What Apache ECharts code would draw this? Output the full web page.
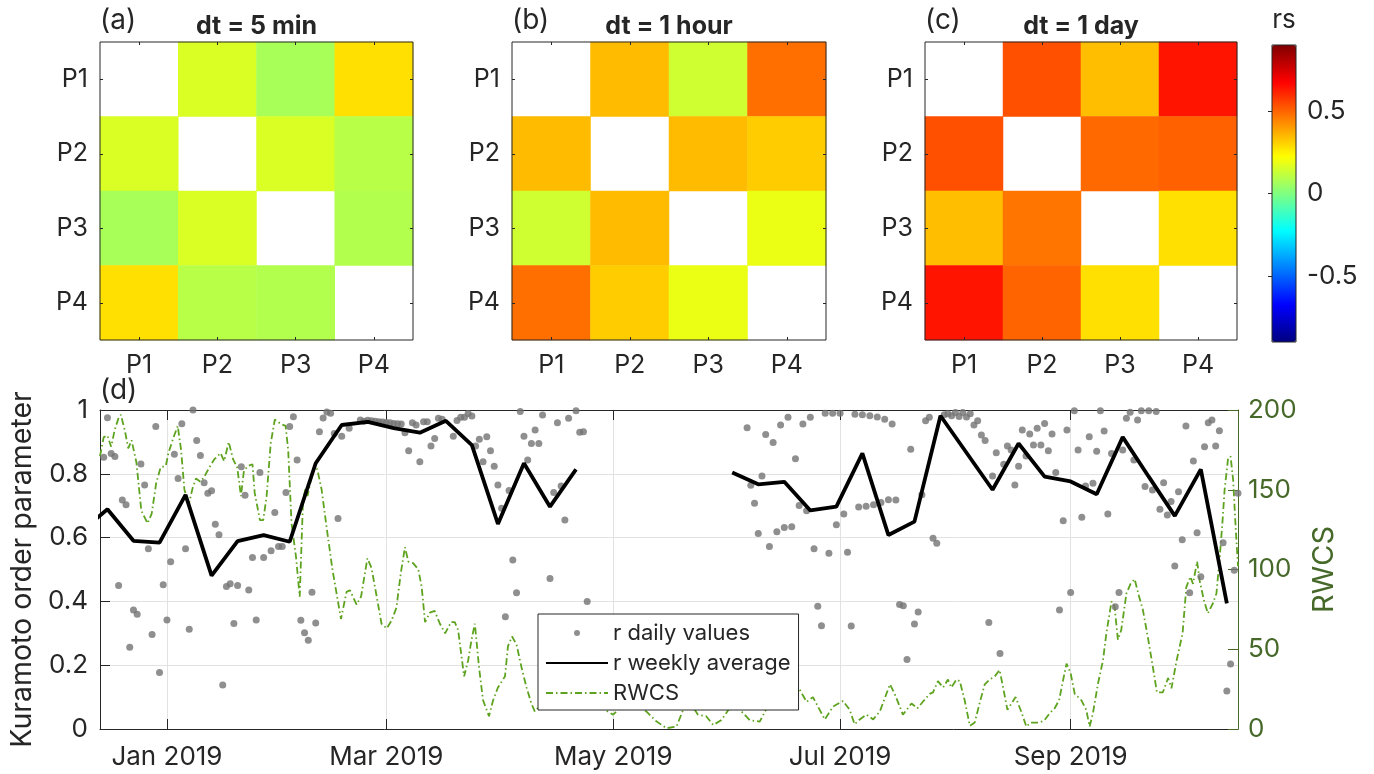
<!DOCTYPE html>
<html>
<head>
<meta charset="utf-8">
<script src="https://cdn.jsdelivr.net/npm/echarts@6/dist/echarts.min.js"></script>
<style>
  html, body { margin: 0; padding: 0; background: #fff; }
  #chart { width: 1374px; height: 774px; }
</style>
</head>
<body>
<div id="chart"></div>
<script>
// ---- data ----
const stations = ['P1', 'P2', 'P3', 'P4'];

// rs matrices: row = y category (P1 on top), column = x category, diagonal left blank
const rs5min = [
  [null, 0.16, 0.07, 0.28],
  [0.16, null, 0.16, 0.10],
  [0.07, 0.16, null, 0.09],
  [0.28, 0.10, 0.09, null],
];
const rs1hour = [
  [null, 0.345, 0.14, 0.48],
  [0.345, null, 0.345, 0.315],
  [0.14, 0.345, null, 0.19],
  [0.48, 0.315, 0.19, null],
];
const rs1day = [
  [null, 0.535, 0.34, 0.64],
  [0.535, null, 0.49, 0.505],
  [0.34, 0.47, null, 0.28],
  [0.64, 0.50, 0.28, null],
];
const panelTitles = ['dt = 5 min', 'dt = 1 hour', 'dt = 1 day'];
const panelLetters = ['(a)', '(b)', '(c)'];
const colorbarTicks = [-0.5, 0, 0.5];

const monthTicks = ['2019-01-01', '2019-03-01', '2019-05-01', '2019-07-01', '2019-09-01'];
const monthLabels = ['Jan 2019', 'Mar 2019', 'May 2019', 'Jul 2019', 'Sep 2019'];

// daily Kuramoto r: [day offset from 1 Jan 2019, r]
const dailyR = [
  [-17, 0.852], [-16, 0.976], [-15, 0.864], [-14, 0.854], [-13, 0.450], [-12, 0.718], [-11, 0.703],
  [-10, 0.256], [-9, 0.373], [-8, 0.360], [-7, 0.831], [-6, 0.765], [-5, 0.565], [-4, 0.296],
  [-3, 0.948], [-2, 0.177], [-1, 0.452], [0, 0.342], [1, 0.524], [2, 0.861], [3, 0.785],
  [4, 0.957], [5, 0.565], [6, 0.313], [7, 1.0], [8, 0.904], [9, 0.857], [10, 0.772],
  [11, 0.739], [12, 0.747], [13, 0.642], [14, 0.609], [15, 0.138], [16, 0.447], [17, 0.455],
  [18, 0.331], [19, 0.450], [20, 0.822], [21, 0.733], [22, 0.436], [23, 0.538], [24, 0.342],
  [25, 0.804], [26, 0.538], [28, 0.559], [29, 0.679], [30, 0.572], [31, 0.572], [32, 0.741],
  [33, 0.948], [34, 0.979], [35, 0.843], [36, 0.341], [37, 0.302], [38, 0.278], [39, 0.429],
  [40, 0.332], [41, 0.932], [42, 0.975], [43, 0.994], [44, 0.990], [45, 0.926], [46, 0.660],
  [47, 0.918], [49, 0.943], [52, 0.969], [53, 0.965], [54, 0.968], [55, 0.966], [56, 0.965],
  [57, 0.963], [58, 0.962], [59, 0.961], [60, 0.960], [61, 0.958], [62, 0.957], [63, 0.956],
  [64, 0.929], [65, 0.872], [66, 0.960], [67, 0.953], [68, 0.838], [69, 0.963], [70, 0.963],
  [71, 0.887], [72, 0.911], [73, 0.974], [74, 0.971], [77, 0.918], [78, 0.967], [79, 0.977],
  [80, 0.977], [81, 0.989], [82, 0.981], [83, 0.887], [84, 0.908], [85, 0.838], [86, 0.916],
  [87, 0.872], [88, 0.824], [89, 0.765], [90, 0.692], [91, 0.352], [92, 0.748], [93, 0.530],
  [94, 0.427], [95, 0.995], [96, 0.918], [97, 0.843], [98, 0.895], [99, 0.937], [100, 0.895],
  [101, 0.984], [103, 0.472], [104, 0.741], [105, 0.960], [106, 0.762], [107, 0.655],
  [108, 0.974], [110, 0.998], [111, 0.930], [112, 0.932], [113, 0.400],
  [156, 0.944], [157, 0.764], [158, 0.708], [159, 0.613], [160, 0.793], [161, 0.923],
  [162, 0.572], [163, 0.898], [164, 0.618], [165, 0.953], [166, 0.632], [167, 0.977],
  [168, 0.634], [169, 0.847], [170, 0.701], [171, 0.956], [172, 0.684], [173, 0.977],
  [174, 0.565], [175, 0.385], [176, 0.324], [177, 0.990], [178, 0.551], [179, 0.990],
  [180, 0.640], [181, 0.990], [182, 0.674], [183, 0.554], [184, 0.323], [185, 0.987],
  [186, 0.696], [187, 0.985], [188, 0.698], [189, 0.982], [190, 0.703], [191, 0.978],
  [192, 0.710], [193, 0.971], [194, 0.719], [195, 0.956], [196, 0.718], [197, 0.390],
  [198, 0.386], [199, 0.218], [200, 0.877], [201, 0.329], [202, 0.367], [203, 0.734],
  [204, 0.966], [205, 0.977], [206, 0.598], [207, 0.582], [209, 0.985], [210, 0.988],
  [211, 0.982], [212, 0.992], [213, 0.980], [214, 0.992], [215, 0.978], [216, 0.988],
  [217, 0.953], [218, 0.966], [219, 0.922], [220, 0.904], [221, 0.334], [222, 0.793],
  [223, 0.866], [224, 0.237], [225, 0.830], [226, 0.887], [227, 0.875], [228, 0.765],
  [229, 0.824], [230, 0.937], [231, 0.856], [232, 0.925], [233, 0.890], [234, 0.943],
  [235, 0.890], [236, 0.958], [237, 0.872], [238, 0.925], [239, 0.804], [240, 0.373],
  [241, 0.653], [242, 0.937], [243, 0.428], [244, 0.998], [245, 0.875], [246, 0.664],
  [247, 0.762], [248, 0.916], [249, 0.770], [250, 0.871], [251, 0.998], [252, 0.934],
  [253, 0.674], [254, 0.864], [255, 0.383], [256, 0.428], [257, 0.875], [258, 0.974],
  [259, 0.993], [260, 0.843], [261, 0.969], [262, 0.998], [263, 0.760], [264, 0.998],
  [265, 0.749], [266, 0.995], [267, 0.689], [268, 0.772], [269, 0.671], [270, 0.713],
  [271, 0.511], [272, 0.744], [273, 0.593], [274, 0.950], [275, 0.427], [276, 0.840],
  [277, 0.615], [278, 0.477], [279, 0.885], [280, 0.960], [281, 0.969], [282, 0.887],
  [283, 0.935], [284, 0.584], [285, 0.119], [286, 0.204], [287, 0.498], [288, 0.739],
];

// weekly average r (gap = no data)
const weeklyR = [
  [-23, 0.62], [-16, 0.689], [-9, 0.590], [-2, 0.584], [5, 0.734], [12, 0.481], [19, 0.589],
  [26, 0.608], [33, 0.587], [40, 0.833], [47, 0.953], [54, 0.963], [61, 0.943], [68, 0.929],
  [75, 0.966], [82, 0.890], [89, 0.643], [96, 0.833], [103, 0.697], [110, 0.814],
  [117, null], [124, null], [131, null], [138, null], [145, null],
  [152, 0.804], [159, 0.767], [166, 0.775], [173, 0.685], [180, 0.697], [187, 0.864],
  [194, 0.608], [201, 0.650], [208, 0.982], [215, 0.866], [222, 0.750], [229, 0.895],
  [236, 0.791], [243, 0.776], [250, 0.736], [257, 0.915], [264, 0.791], [271, 0.668],
  [278, 0.814], [285, 0.394],
];

// RWCS (right axis)
const rwcs = [
  [-18, 171], [-17, 183], [-16, 184], [-15, 177], [-14, 188], [-13, 195], [-12.4, 197],
  [-11.3, 187], [-10.4, 176], [-9.5, 181], [-8.2, 167], [-6.9, 137], [-5.2, 129], [-4.1, 135],
  [-2.9, 154], [-1.7, 164], [-0.3, 165], [0.4, 173], [1.8, 183], [2.9, 190], [3.8, 175],
  [4.7, 150], [5.9, 141], [6.9, 151], [7.8, 157], [9, 155], [10, 158], [11.4, 164],
  [12.7, 169], [14.4, 173], [15.4, 168], [16.6, 180], [17.8, 169], [18.9, 164], [19.9, 146],
  [20.7, 162], [21.9, 165], [23, 166], [23.6, 148], [25, 131], [25.9, 131], [26.8, 146],
  [27.9, 179], [29, 194], [30.8, 191], [31.9, 190], [32.6, 175], [33.5, 129], [34.7, 108],
  [35.7, 83], [36.6, 144], [37.3, 151], [37.8, 146], [38.7, 156], [39.8, 166], [40.5, 162],
  [41.6, 150], [42.9, 127], [44.5, 100], [46.8, 69], [48.3, 86], [49.2, 87], [51, 78],
  [52.2, 83], [53.9, 107], [55, 101], [56.4, 83], [57.7, 66], [59.1, 63], [60.4, 68],
  [61.7, 76], [62.9, 98], [64, 114], [64.9, 105], [66.2, 104], [67.6, 100], [68.5, 89],
  [69.4, 67], [70.7, 73], [72, 74], [73.4, 66], [74.8, 60], [76.4, 67], [77.4, 67],
  [78.3, 62], [79.9, 33], [81, 43], [81.9, 56], [82.8, 66], [83.9, 39], [85, 18], [86.6, 8],
  [87.7, 18], [89, 26], [90.9, 33], [91.7, 52], [92.8, 58], [94, 53], [95.3, 39], [96.7, 26],
  [98, 16], [98.9, 11], [99.4, 12], [103, 22], [107, 30], [111, 20], [115, 24], [117.7, 12],
  [120, 9], [124, 18], [128.9, 11], [131.5, 5], [134.3, 0.5], [137, 1.5], [138.8, 12],
  [140.8, 16], [142.8, 9], [145, 8], [146.9, 2.5], [149.1, 5.6], [151, 12], [152.7, 16],
  [154.5, 11], [156.7, 5.6], [159.4, 4.6], [160.8, 11], [163.5, 22], [166.5, 30],
  [169.7, 26.5], [172, 17], [173.7, 20], [176.9, 6], [179.1, 14], [181.8, 17.6], [183.6, 12],
  [184.9, 3], [186.3, 6], [188.1, 9], [189.9, 6], [191.7, 11], [194.4, 28], [195.7, 22],
  [197.9, 9], [200.2, 16], [201.8, 13], [203.6, 18], [205.1, 22], [206, 23], [207.3, 30],
  [208.7, 26], [210, 31], [210.9, 26], [212.3, 31], [213.2, 30], [214.5, 18], [215.9, 2],
  [217.2, 4], [218.5, 16], [219.9, 28], [221.2, 31], [222.6, 33], [223.9, 37], [224.8, 26.5],
  [226, 12], [227.1, 16], [228.2, 20], [229.7, 11], [231.1, 1.5], [232.2, 4], [233.3, 4],
  [234.7, 4], [236, 5.6], [237.4, 10], [238.7, 13], [239.9, 18], [241, 31], [241.9, 41],
  [243, 35], [244.1, 22], [245.9, 18], [247.2, 12], [248.1, 1.5], [249, 10], [250.4, 29],
  [251.7, 43], [252.6, 60], [254, 80], [254.8, 77], [255.7, 56], [256.6, 62], [258, 85],
  [259.1, 91], [260.2, 94], [261.4, 83], [262.4, 75], [263.8, 57], [265.1, 39], [266.2, 23],
  [267.8, 23], [269.2, 32], [270.1, 25.5], [271.5, 43], [273.1, 60], [274.1, 89], [275.2, 95.5],
  [275.9, 91], [277, 105], [277.7, 93], [278.8, 81], [279.9, 72.5], [281.3, 79], [282.2, 85],
  [283.1, 108], [283.8, 129], [284.4, 150], [285.3, 169], [286, 171], [286.7, 156],
  [287.4, 125], [288, 102],
];

// ---- helpers ----
const FONT = 'Inter';
const INK = '#262626';
const GREEN_LINE = '#5ea31f';
const GREEN_AXIS = '#46692a';
const JET = ['#000080', '#0000ff', '#0080ff', '#00ffff', '#80ff80', '#ffff00', '#ff8000', '#ff0000', '#800000'];
const dayMs = 86400000;
const jan1 = Date.UTC(2019, 0, 1);
const toTime = (d) => jan1 + d * dayMs;
const tickTimes = monthTicks.map((s) => new Date(s + 'T00:00:00Z').getTime());

const cells = (mat) => {
  const out = [];
  mat.forEach((row, i) => row.forEach((v, j) => {
    if (v !== null) out.push([j, i, v]);
  }));
  return out;
};

const heatBoxes = [
  { left: 100, top: 42, width: 313, height: 298 },
  { left: 512, top: 42, width: 314, height: 298 },
  { left: 925, top: 42, width: 312, height: 298 },
];

const grids = [];
const xAxes = [];
const yAxes = [];
const series = [];
const texts = [];

[rs5min, rs1hour, rs1day].forEach((mat, i) => {
  const box = heatBoxes[i];
  grids.push({ ...box, show: true, borderColor: INK, borderWidth: 1, z: 10 });
  const tick = { show: true, inside: true, length: 3, alignWithLabel: true, lineStyle: { color: INK } };
  xAxes.push({
    type: 'category', gridIndex: i, data: stations, position: 'bottom', z: 10,
    axisLine: { show: false }, axisTick: tick,
    axisLabel: { fontFamily: FONT, fontSize: 25, color: INK, margin: 13 },
  });
  xAxes.push({
    type: 'category', gridIndex: i, data: stations, position: 'top', z: 10,
    axisLine: { show: false }, axisTick: tick, axisLabel: { show: false },
  });
  yAxes.push({
    type: 'category', gridIndex: i, data: stations, inverse: true, position: 'left', z: 10,
    axisLine: { show: false }, axisTick: tick,
    axisLabel: { fontFamily: FONT, fontSize: 25, color: INK, margin: 12 },
  });
  yAxes.push({
    type: 'category', gridIndex: i, data: stations, inverse: true, position: 'right', z: 10,
    axisLine: { show: false }, axisTick: tick, axisLabel: { show: false },
  });
  series.push({
    type: 'heatmap', xAxisIndex: i * 2, yAxisIndex: i * 2, data: cells(mat),
    emphasis: { disabled: true }, progressive: 0,
  });
  texts.push({
    type: 'text', x: box.left, y: 21,
    style: { text: panelLetters[i], fontFamily: FONT, fontSize: 28, fill: INK,
      textAlign: 'left', textVerticalAlign: 'middle', align: 'left', verticalAlign: 'middle' },
  });
  texts.push({
    type: 'text', x: box.left + box.width / 2, y: 26,
    style: { text: panelTitles[i], fontFamily: FONT, fontSize: 25, fontWeight: 'bold', fill: INK,
      textAlign: 'center', textVerticalAlign: 'middle', align: 'center', verticalAlign: 'middle' },
  });
});

// colorbar frame + ticks (grid 3, axes 6)
grids.push({ left: 1272, top: 45, width: 24, height: 297, show: true, borderColor: INK, borderWidth: 1, z: 10 });
xAxes.push({ type: 'value', gridIndex: 3, show: false, min: 0, max: 1 });
yAxes.push({
  type: 'value', gridIndex: 3, position: 'right', min: -0.9, max: 0.9, z: 10,
  axisLine: { show: false }, splitLine: { show: false },
  axisTick: { show: true, inside: true, length: 4, customValues: colorbarTicks, lineStyle: { color: INK } },
  axisLabel: { customValues: colorbarTicks, fontFamily: FONT, fontSize: 26, color: INK, margin: 11 },
});
texts.push({
  type: 'text', x: 1284, y: 20,
  style: { text: 'rs', fontFamily: FONT, fontSize: 26, fill: INK,
    textAlign: 'center', textVerticalAlign: 'middle', align: 'center', verticalAlign: 'middle' },
});

// time series panel (grid 4, axes 7/8); x values are timestamps on a value scale
grids.push({ left: 100, top: 410, width: 1138, height: 319, show: false });
const monthLabel = (val) => {
  const i = tickTimes.findIndex((t) => Math.abs(t - val) < dayMs / 2);
  return i >= 0 ? monthLabels[i] : '';
};
xAxes.push({
  type: 'value', gridIndex: 4, position: 'bottom', min: toTime(-18), max: toTime(288),
  axisLine: { show: true, onZero: false, lineStyle: { color: INK, width: 1 } },
  axisTick: { show: true, inside: true, length: 10, customValues: tickTimes, lineStyle: { color: INK } },
  axisLabel: { customValues: tickTimes, formatter: monthLabel, fontFamily: FONT, fontSize: 26, color: INK, margin: 15 },
  splitLine: { show: true, lineStyle: { color: '#e2e2e2', width: 1 } },
});
xAxes.push({
  type: 'value', gridIndex: 4, position: 'top', min: toTime(-18), max: toTime(288),
  axisLine: { show: true, onZero: false, lineStyle: { color: INK, width: 1 } },
  axisTick: { show: true, inside: true, length: 10, customValues: tickTimes, lineStyle: { color: INK } },
  axisLabel: { show: false }, splitLine: { show: false },
});
yAxes.push({
  type: 'value', gridIndex: 4, position: 'left', min: 0, max: 1, interval: 0.2,
  name: 'Kuramoto order parameter', nameLocation: 'middle', nameGap: 62,
  nameTextStyle: { fontFamily: FONT, fontSize: 28.5, color: INK },
  axisLine: { show: true, onZero: false, lineStyle: { color: INK, width: 1 } },
  axisTick: { show: true, inside: true, length: 10, lineStyle: { color: INK } },
  axisLabel: { fontFamily: FONT, fontSize: 26, color: INK, margin: 12 },
  splitLine: { show: true, lineStyle: { color: '#e2e2e2', width: 1 } },
});
yAxes.push({
  type: 'value', gridIndex: 4, position: 'right', min: 0, max: 200, interval: 50,
  name: 'RWCS', nameLocation: 'middle', nameGap: 72, nameRotate: 90,
  nameTextStyle: { fontFamily: FONT, fontSize: 29, color: GREEN_AXIS },
  axisLine: { show: true, onZero: false, lineStyle: { color: GREEN_AXIS, width: 1 } },
  axisTick: { show: true, inside: true, length: 10, lineStyle: { color: GREEN_AXIS } },
  axisLabel: { fontFamily: FONT, fontSize: 26, color: GREEN_AXIS, margin: 10 },
  splitLine: { show: false },
});
texts.push({
  type: 'text', x: 100, y: 391,
  style: { text: '(d)', fontFamily: FONT, fontSize: 28, fill: INK,
    textAlign: 'left', textVerticalAlign: 'middle', align: 'left', verticalAlign: 'middle' },
});

series.push({
  name: 'r daily values', type: 'scatter', xAxisIndex: 7, yAxisIndex: 7,
  data: dailyR.map(([d, v]) => [toTime(d), v]),
  symbolSize: 7, itemStyle: { color: '#737373' }, emphasis: { disabled: true }, z: 3,
});
series.push({
  name: 'RWCS', type: 'line', xAxisIndex: 7, yAxisIndex: 8,
  data: rwcs.map(([d, v]) => [toTime(d), v]),
  showSymbol: false, symbol: 'none', clip: true,
  lineStyle: { color: GREEN_LINE, width: 1.8, type: [7, 3, 1.5, 3] },
  itemStyle: { color: GREEN_LINE }, emphasis: { disabled: true }, z: 2,
});
series.push({
  name: 'r weekly average', type: 'line', xAxisIndex: 7, yAxisIndex: 7,
  data: weeklyR.map(([d, v]) => [toTime(d), v === null ? '-' : v]),
  showSymbol: false, symbol: 'none', clip: true, connectNulls: false,
  lineStyle: { color: '#000', width: 3.8 }, itemStyle: { color: '#000' },
  emphasis: { disabled: true }, z: 4,
});

const chart = echarts.init(document.getElementById('chart'), null, { renderer: 'canvas' });
chart.setOption({
  animation: false,
  backgroundColor: '#fff',
  grid: grids,
  xAxis: xAxes,
  yAxis: yAxes,
  visualMap: {
    type: 'continuous', min: -0.9, max: 0.9, seriesIndex: [0, 1, 2], dimension: 2,
    inRange: { color: JET }, calculable: false, show: true, orient: 'vertical',
    left: 1272, top: 45, itemWidth: 24, itemHeight: 297, padding: 0, text: null,
    hoverLink: false, z: 4,
  },
  legend: {
    left: 538, top: 614, orient: 'vertical',
    itemWidth: 62, itemHeight: 6, itemGap: 4, padding: [6, 8, 4, 7],
    backgroundColor: '#fff', borderColor: INK, borderWidth: 1, borderRadius: 0,
    textStyle: { fontFamily: FONT, fontSize: 22, color: INK, lineHeight: 26 },
    selectedMode: false, z: 20,
    data: [
      { name: 'r daily values' },
      { name: 'r weekly average', itemStyle: { opacity: 0 } },
      { name: 'RWCS', itemStyle: { opacity: 0 } },
    ],
  },
  graphic: texts,
  series,
});
</script>
</body>
</html>
